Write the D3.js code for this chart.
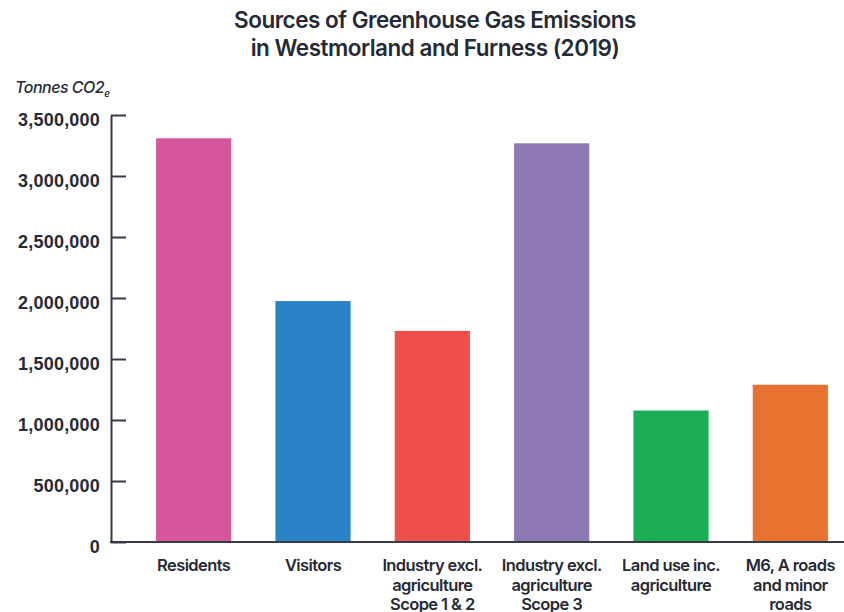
<!DOCTYPE html>
<html>
<head>
  <meta charset="utf-8">
  <script src="https://cdn.jsdelivr.net/npm/d3@7"></script>
  <style>
    body { margin: 0; background: #fff; }
    svg { font-family: Inter, "Liberation Sans", Arial, sans-serif; }
    .title { font-size: 22.5px; font-weight: 600; fill: #262a35; letter-spacing: -0.5px; }
    .ylab { font-size: 16px; font-style: italic; font-weight: 500; fill: #262a35; letter-spacing: -0.5px; }
    .axis text { font-size: 18px; font-weight: 600; fill: #262a35; letter-spacing: 0.2px; }
    .axis path, .axis line { stroke: #363b47; stroke-width: 2px; }
    .xlab { font-size: 16.5px; font-weight: 600; fill: #262a35; letter-spacing: -0.6px; }
  </style>
</head>
<body>
<svg id="chart" width="844" height="612"></svg>
<script>
  // data
  const categories = [
    ["Residents"],
    ["Visitors"],
    ["Industry excl.", "agriculture", "Scope 1 & 2"],
    ["Industry excl.", "agriculture", "Scope 3"],
    ["Land use inc.", "agriculture"],
    ["M6, A roads", "and minor", "roads"]
  ];
  const emissions = [3309000, 1975000, 1730000, 3268000, 1078000, 1289000];
  const colours = ["#d6569b", "#2a82c7", "#ee4f4a", "#8f79b5", "#1cae54", "#e87230"];
  const yTicks = [0, 500000, 1000000, 1500000, 2000000, 2500000, 3000000, 3500000];

  const svg = d3.select('#chart');
  const keys = categories.map((c) => c.join(' '));

  const x = d3.scaleBand().domain(keys).range([134, 850])
    .paddingInner(0.37).paddingOuter(0.185);
  const y = d3.scaleLinear().domain([0, 3500000]).range([542, 115]);

  // title
  svg.append('text').attr('class', 'title').attr('x', 435).attr('y', 28)
    .attr('text-anchor', 'middle').text('Sources of Greenhouse Gas Emissions');
  svg.append('text').attr('class', 'title').attr('x', 435).attr('y', 56)
    .attr('text-anchor', 'middle').text('in Westmorland and Furness (2019)');

  // y label
  const yl = svg.append('text').attr('class', 'ylab').attr('x', 15).attr('y', 93);
  yl.append('tspan').text('Tonnes CO2');
  yl.append('tspan').attr('dy', 4).style('font-size', '10px').text('e');

  // bars
  svg.selectAll('rect.bar').data(emissions).enter().append('rect')
    .attr('class', 'bar')
    .attr('x', (d, i) => x(keys[i]))
    .attr('width', x.bandwidth())
    .attr('y', (d) => y(d))
    .attr('height', (d) => y(0) - y(d))
    .attr('fill', (d, i) => colours[i]);

  // y axis
  const yAxis = d3.axisLeft(y).tickValues(yTicks)
    .tickSize(-15).tickSizeOuter(0).tickPadding(11)
    .tickFormat(d3.format(','));
  const ga = svg.append('g').attr('class', 'axis').attr('transform', 'translate(111,0)').call(yAxis);
  ga.selectAll('text').attr('dy', '0.6em');

  // x baseline
  svg.append('line').attr('x1', 110).attr('x2', 844)
    .attr('y1', y(0)).attr('y2', y(0))
    .attr('stroke', '#363b47').attr('stroke-width', 2);

  // x labels
  categories.forEach((lines, i) => {
    const t = svg.append('text').attr('class', 'xlab')
      .attr('x', x(keys[i]) + x.bandwidth() / 2).attr('y', 571)
      .attr('text-anchor', 'middle');
    lines.forEach((l, j) => {
      t.append('tspan').attr('x', x(keys[i]) + x.bandwidth() / 2)
        .attr('dy', j === 0 ? 0 : 19.5).text(l);
    });
  });
</script>
</body>
</html>
